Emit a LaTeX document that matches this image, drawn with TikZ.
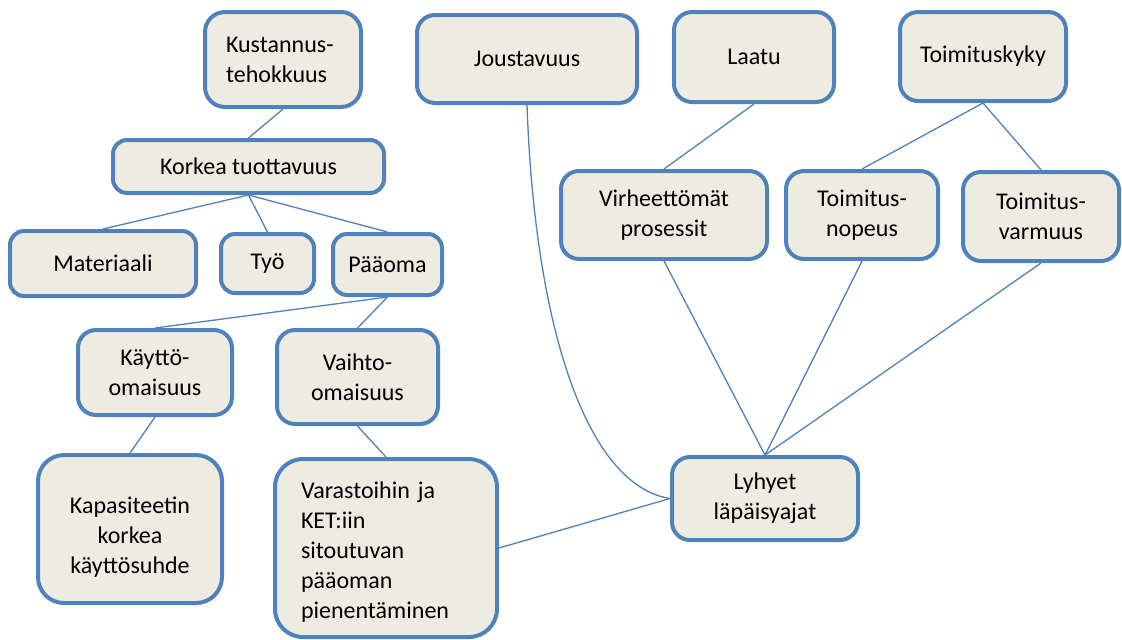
\documentclass[tikz,border=0pt]{standalone}
\usepackage{fontspec}
\setmainfont{Carlito}
\usepackage{tikz}
\definecolor{boxblue}{HTML}{4F81BD}
\definecolor{boxfill}{HTML}{EEECE1}
\tikzset{
  box/.style={draw=boxblue, line width=2pt, fill=boxfill, rounded corners=7pt,
    align=center, inner sep=0pt, font=\fontsize{12}{15}\selectfont},
  link/.style={draw=boxblue, line width=.65pt}
}

\begin{document}
\begin{tikzpicture}[x=.5pt,y=-.5pt]
\useasboundingbox (0,0) rectangle (1122,639);
\node[box, minimum width=78pt, minimum height=47.5pt, rounded corners=10pt, text width=57pt, align=left] (kust) at (283,59.5) {Kustannus-\\tehokkuus};
\node[box, minimum width=110pt, minimum height=44pt, rounded corners=9pt] (jous) at (527,59) {Joustavuus};
\node[box, minimum width=80pt, minimum height=45pt, rounded corners=9pt] (laatu) at (754,57) {Laatu};
\node[box, minimum width=83pt, minimum height=44.5pt, rounded corners=9pt] (kyky) at (983,56.5) {Toimituskyky};
\node[box, minimum width=135.5pt, minimum height=26.5pt] (korkea) at (248.5,166.5) {Korkea tuottavuus};
\node[box, minimum width=93pt, minimum height=32.5pt] (mat) at (103,263.5) {Materiaali};
\node[box, minimum width=46.5pt, minimum height=29.5pt] (tyo) at (267.5,263.5) {Työ};
\node[box, minimum width=54.5pt, minimum height=30.5pt] (paa) at (387.5,264.5) {Pääoma};
\node[box, minimum width=103pt, minimum height=44pt, rounded corners=9pt] (virhe) at (664,215) {Virheettömät\\prosessit};
\node[box, minimum width=76pt, minimum height=44pt, rounded corners=9pt] (nopeus) at (862,215) {Toimitus-\\nopeus};
\node[box, minimum width=78pt, minimum height=44.5pt, rounded corners=9pt] (varmuus) at (1041,216.5) {Toimitus-\\varmuus};
\node[box, minimum width=77pt, minimum height=42.5pt, rounded corners=9pt] (kaytto) at (155,372.5) {Käyttö-\\omaisuus};
\node[box, minimum width=80.5pt, minimum height=47pt, rounded corners=9pt] (vaihto) at (357.5,377) {Vaihto-\\omaisuus};
\node[box, minimum width=92pt, minimum height=74pt, rounded corners=13pt] (kapa) at (130,529) {\rule{0pt}{16pt}Kapasiteetin\\korkea\\käyttösuhde};
\node[box, minimum width=111pt, minimum height=89pt, rounded corners=14pt, text width=85pt, align=left] (vara) at (386,548) {\rule{0pt}{12pt}Varastoihin ja\\KET:iin\\sitoutuvan\\pääoman\\pienentäminen};
\node[box, minimum width=93pt, minimum height=41.5pt, rounded corners=9pt] (lyhyet) at (765,498.5) {Lyhyet\\läpäisyajat};
\draw[link] (kust.south) -- (korkea.north);
\draw[link] (korkea.south) -- (mat.north);
\draw[link] (korkea.south) -- (tyo.north);
\draw[link] (korkea.south) -- (paa.north);
\draw[link] (paa.south) -- (kaytto.north);
\draw[link] (paa.south) -- (vaihto.north);
\draw[link] (kaytto.south) -- (kapa.north);
\draw[link] (vaihto.south) -- (vara.north);
\draw[link] (vara.east) -- (lyhyet.west);
\draw[link] (jous.south) .. controls +(8,227) and +(-82,-13) .. (lyhyet.west);
\draw[link] (laatu.south) -- (virhe.north);
\draw[link] (kyky.south) -- (nopeus.north);
\draw[link] (kyky.south) -- (varmuus.north);
\draw[link] (virhe.south) -- (lyhyet.north);
\draw[link] (nopeus.south) -- (lyhyet.north);
\draw[link] (varmuus.south) -- (lyhyet.north);
\end{tikzpicture}
\end{document}
